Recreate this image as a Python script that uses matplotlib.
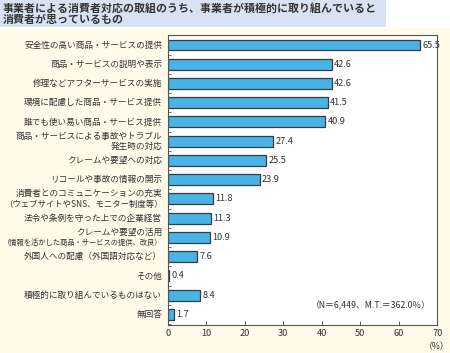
import numpy as np
import matplotlib.pyplot as plt
from matplotlib.patches import Rectangle
from matplotlib.transforms import blended_transform_factory, offset_copy

plt.rcParams['font.family'] = ['Noto Sans CJK JP', 'DejaVu Sans']

categories = [
    "安全性の高い商品・サービスの提供",
    "商品・サービスの説明や表示",
    "修理などアフターサービスの実施",
    "環境に配慮した商品・サービス提供",
    "誰でも使い易い商品・サービス提供",
    "商品・サービスによる事故やトラブル\n発生時の対応",
    "クレームや要望への対応",
    "リコールや事故の情報の開示",
    "消費者とのコミュニケーションの充実\n（ウェブサイトやSNS、モニター制度等）",
    "法令や条例を守った上での企業経営",
    "クレームや要望の活用\n（情報を活かした商品・サービスの提供、改良）",
    "外国人への配慮（外国語対応など）",
    "その他",
    "積極的に取り組んでいるものはない",
    "無回答",
]
values = [65.5, 42.6, 42.6, 41.5, 40.9, 27.4, 25.5, 23.9, 11.8, 11.3, 10.9, 7.6, 0.4, 8.4, 1.7]
xticks = [0, 10, 20, 30, 40, 50, 60, 70]

title = "事業者による消費者対応の取組のうち、事業者が積極的に取り組んでいると\n消費者が思っているもの"
note = "（N＝6,449、M.T.＝362.0％）"

W, H = 450, 353
fig = plt.figure(figsize=(W / 100, H / 100), dpi=100)
fig.patch.set_facecolor('white')

# backgrounds
fig.patches.append(Rectangle((0, 0), 1, 1 - 28 / H, transform=fig.transFigure,
                             facecolor='#fffbe9', edgecolor='none', zorder=-2))
fig.patches.append(Rectangle((0, 1 - 27 / H), 386 / W, 27 / H, transform=fig.transFigure,
                             facecolor='#d7e3f3', edgecolor='none', zorder=-1))
fig.text(3 / W, 1 - 14 / H, title, fontsize=7.9, fontweight='bold', color='#333333',
         va='center', ha='left', linespacing=1.15)

ax = fig.add_axes([167.7 / W, 1 - 325 / H, (437.3 - 167.7) / W, (325 - 35) / H])
ax.set_facecolor('white')

y = np.arange(len(values))
ax.barh(y, values, height=0.57, color='#47b3e6', edgecolor='#3c3c3c', linewidth=0.9)
for yi, v in zip(y, values):
    ax.text(v + 0.6, yi, f"{v:.1f}", va='center', ha='left', fontsize=6.6, color='#333333')

ax.set_xlim(0, 70)
ax.set_ylim(len(values) - 0.45, -0.52)
ax.set_xticks(xticks)
ax.set_xticklabels([str(t) for t in xticks], fontsize=6.6, color='#333333')
ax.set_yticks([])
ax.set_yticks(np.arange(len(values) + 1) - 0.5, minor=True)
ax.tick_params(axis='y', which='minor', direction='in', length=2.5, width=0.6, color='#555555')
ax.tick_params(axis='x', direction='in', length=3, width=0.7, color='#555555', pad=3)
for s in ax.spines.values():
    s.set_color('#555555')
    s.set_linewidth(0.8)

# category labels, second lines drawn a bit smaller when they are long
trans = offset_copy(blended_transform_factory(ax.transAxes, ax.transData),
                    fig=fig, x=-4, y=0, units='points')
for yi, lab in zip(y, categories):
    lines = lab.split("\n")
    if len(lines) == 1:
        ax.text(0, yi, lab, transform=trans, ha='right', va='center',
                fontsize=6.2, color='#333333')
    else:
        ax.text(0, yi - 0.27, lines[0], transform=trans, ha='right', va='center',
                fontsize=6.2, color='#333333')
        fs2 = 6.2 if len(lines[1]) < 14 else (6.05 if len(lines[1]) < 21 else 5.25)
        ax.text(0, yi + 0.28, lines[1], transform=trans, ha='right', va='center',
                fontsize=fs2, color='#333333')

fig.text(431 / W, 1 - 306 / H, note, ha='right', va='center', fontsize=6.3, color='#333333')
fig.text(437 / W, 1 - 347 / H, "（%）", ha='center', va='center', fontsize=6.3, color='#333333')

fig.savefig('out.png', dpi=100, facecolor=fig.get_facecolor())
